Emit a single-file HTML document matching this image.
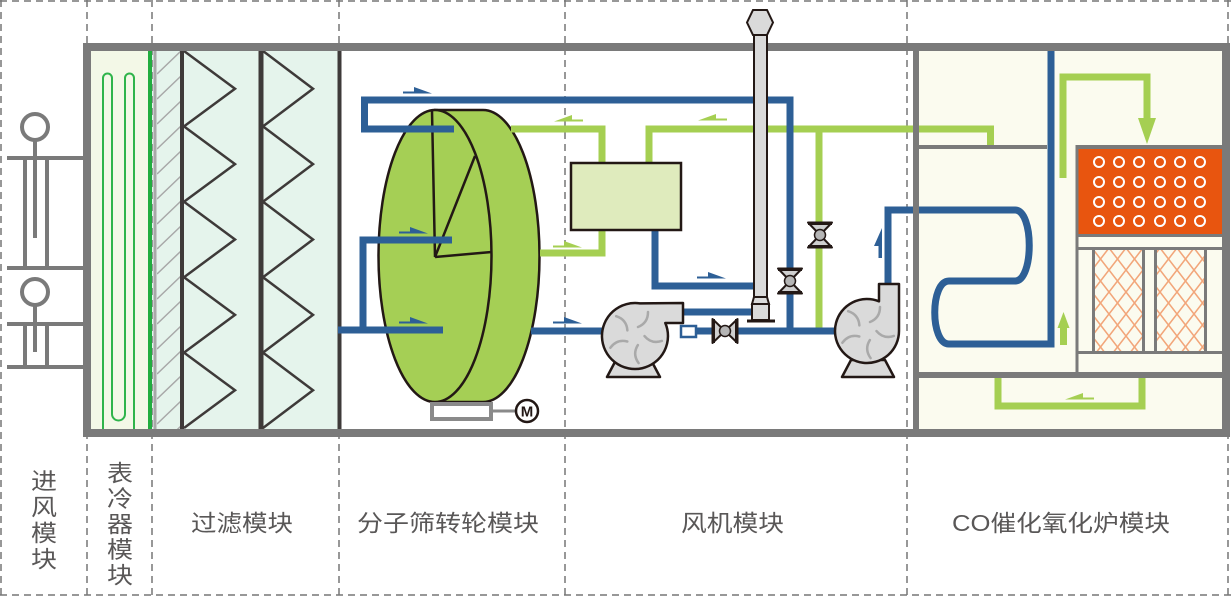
<!DOCTYPE html>
<html><head><meta charset="utf-8"><style>
html,body{margin:0;padding:0;background:#fff;}
svg{display:block;}
text{font-family:"Liberation Sans","Noto Sans CJK SC",sans-serif;fill:#595757;}
</style></head><body>
<svg width="1232" height="597" viewBox="0 0 1232 597" xmlns="http://www.w3.org/2000/svg">
<defs>
<clipPath id="hc"><rect x="157" y="51" width="24" height="378"/></clipPath>
<pattern id="xh" width="17" height="22" patternUnits="userSpaceOnUse" x="1092" y="248">
<path d="M0,0 L17,22 M17,0 L0,22" stroke="#f2a67a" stroke-width="1.6" fill="none"/>
</pattern>
<g id="bl" fill="none" stroke="#a9a9a9" stroke-width="2.5" stroke-linecap="round">
<path d="M3,-9 Q13,-13 13,-24"/>
<path d="M3,-9 Q13,-13 13,-24" transform="rotate(72)"/>
<path d="M3,-9 Q13,-13 13,-24" transform="rotate(144)"/>
<path d="M3,-9 Q13,-13 13,-24" transform="rotate(216)"/>
<path d="M3,-9 Q13,-13 13,-24" transform="rotate(288)"/>
</g>
<g id="vv">
<path d="M-12,-12.5 L12,-12.5 L0,0 Z M-12,12.5 L12,12.5 L0,0 Z" fill="#cfcfcf" stroke="#231815" stroke-width="2" stroke-linejoin="round"/>
<path d="M-12,-11.5 L12,-11.5 M-12,11.5 L12,11.5" stroke="#231815" stroke-width="3"/>
<circle r="5.5" fill="#b5b5b5" stroke="#231815" stroke-width="1.5"/>
</g>
<path id="ar" d="M0,-1.5 L11,-1.5 L11,-6 L29,0.5 L0,0.5 Z"/>
</defs>

<!-- fills -->
<rect x="91" y="51" width="58" height="378" fill="#f3f8e7"/>
<rect x="152" y="51" width="187" height="378" fill="#e5f4ec"/>
<rect x="916" y="51" width="306" height="378" fill="#fbfbef"/>

<!-- dashed guides -->
<g stroke="#777" stroke-width="1.5" stroke-dasharray="7 5" fill="none">
<line x1="1" y1="0" x2="1" y2="597"/>
<line x1="87" y1="0" x2="87" y2="597"/>
<line x1="152" y1="0" x2="152" y2="597"/>
<line x1="339" y1="0" x2="339" y2="597"/>
<line x1="565" y1="0" x2="565" y2="597"/>
<line x1="907" y1="0" x2="907" y2="597"/>
<line x1="1228" y1="0" x2="1228" y2="597"/>
<line x1="0" y1="1" x2="1232" y2="1"/>
<line x1="0" y1="595" x2="1232" y2="595"/>
</g>

<!-- intake -->
<g stroke="#7a7a7a" stroke-width="4" fill="none">
<circle cx="35" cy="127" r="13"/>
<line x1="35" y1="140" x2="35" y2="238"/>
<line x1="7" y1="158" x2="85" y2="158"/>
<line x1="7" y1="268" x2="85" y2="268"/>
<line x1="25" y1="158" x2="25" y2="268"/>
<line x1="47" y1="158" x2="47" y2="268"/>
<circle cx="35" cy="292" r="13"/>
<line x1="35" y1="305" x2="35" y2="352"/>
<line x1="7" y1="324" x2="85" y2="324"/>
<line x1="7" y1="367" x2="85" y2="367"/>
<line x1="25" y1="324" x2="25" y2="367"/>
<line x1="47" y1="324" x2="47" y2="367"/>
</g>

<!-- cooler coil -->
<path d="M103,429 L103,78 A4.5,4.5 0 0 1 112,78 L112,414 A6.5,6.5 0 0 0 125,414 L125,78 A4.5,4.5 0 0 1 134,78 L134,429" fill="none" stroke="#2fb44b" stroke-width="2"/>
<line x1="150" y1="51" x2="150" y2="429" stroke="#21ad3f" stroke-width="4"/>
<line x1="155" y1="51" x2="155" y2="429" stroke="#a8a8a8" stroke-width="3"/>
<g clip-path="url(#hc)" stroke="#a8a8a8" stroke-width="1.5">
<path d="M157,74 L181,51 M157,99 L181,76 M157,124 L181,101 M157,149 L181,126 M157,174 L181,151 M157,199 L181,176 M157,224 L181,201 M157,249 L181,226 M157,274 L181,251 M157,299 L181,276 M157,324 L181,301 M157,349 L181,326 M157,374 L181,351 M157,399 L181,376 M157,424 L181,401 M157,449 L181,426"/>
</g>

<!-- filters -->
<g stroke="#3e3a39" fill="none">
<line x1="182" y1="51" x2="182" y2="429" stroke-width="4"/>
<line x1="261" y1="51" x2="261" y2="429" stroke-width="5"/>
<line x1="339.5" y1="51" x2="339.5" y2="429" stroke-width="4"/>
<polyline stroke-width="2.5" points="184,51 235,88.7 184,126.4 235,164.1 184,201.8 235,239.5 184,277.2 235,314.9 184,352.6 235,390.3 184,428"/>
<polyline stroke-width="2.5" points="263,51 313,88.7 263,126.4 313,164.1 263,201.8 313,239.5 263,277.2 313,314.9 263,352.6 313,390.3 263,428"/>
</g>

<!-- main border -->
<rect x="87" y="47" width="1139" height="386" fill="none" stroke="#7a7a7a" stroke-width="8"/>

<!-- wheel -->
<path d="M435,110 L483,110 A56.5,146 0 0 1 483,402 L435,402 Z" fill="#a5cf55" stroke="#231815" stroke-width="2.5"/>
<ellipse cx="435" cy="256" rx="56.5" ry="146" fill="#a5cf55" stroke="#231815" stroke-width="2.5"/>
<path d="M432,111 L435,257 L475,156 M435,257 L491.5,252" fill="none" stroke="#231815" stroke-width="2.5"/>
<rect x="432" y="404" width="59" height="15" fill="#fff" stroke="#8a8a8a" stroke-width="4"/>
<line x1="493" y1="411" x2="516" y2="411" stroke="#8a8a8a" stroke-width="3"/>
<circle cx="527" cy="411" r="11" fill="#fff" stroke="#231815" stroke-width="2.5"/>
<text x="527" y="416.5" text-anchor="middle" font-size="15" font-weight="bold" style="fill:#231815">M</text>

<!-- green pipes -->
<g fill="none" stroke="#a5cf52" stroke-width="7">
<path d="M511,129 L602,129 L602,253 L540,253"/>
<path d="M649,163 L649,129 L990.5,129 L990.5,148"/>
<path d="M819,129 L819,331"/>
<path d="M1063,178 L1063,77 L1147,77 L1147,120"/>
<path d="M998,378 L998,406 L1142,406 L1142,378"/>
<path d="M1063.5,345 L1063.5,326"/>
</g>
<g fill="#a5cf52">
<polygon points="1138,118 1156,118 1147,144"/>
<polygon points="1057.5,328 1069.5,328 1063.5,312"/>
</g>

<!-- blue pipes -->
<g fill="none" stroke="#2d5f96" stroke-width="7">
<path d="M454,129 L364.5,129 L364.5,100 L790,100 L790,331"/>
<path d="M452,240 L363,240 L363,330"/>
<path d="M338,330 L443,330"/>
<path d="M531,331 L603,331"/>
<path d="M683,312 L754,312"/>
<path d="M655,230 L655,286 L754,286"/>
<path d="M697,331 L836,331"/>
<path d="M888,284 L888,210 L1015,210 C1034,210 1034,281 1015,281 L949,281 C930,281 930,344 949,344 L1051,344 L1051,51"/>
</g>
<rect x="681" y="326" width="15" height="11" fill="#fff" stroke="#2d5f96" stroke-width="2.5"/>

<!-- CO walls -->
<g stroke="#7a7a7a" fill="none">
<line x1="916" y1="47" x2="916" y2="433" stroke-width="6"/>
<line x1="916" y1="147" x2="1047" y2="147" stroke-width="4"/>
<line x1="916" y1="375" x2="1222" y2="375" stroke-width="6"/>
</g>

<!-- heater -->
<rect x="1078.5" y="149" width="143.5" height="86" fill="#e8550f"/>
<g stroke="#7a7a7a" fill="none">
<line x1="1077" y1="147" x2="1222" y2="147" stroke-width="4"/>
<line x1="1077" y1="145" x2="1077" y2="375" stroke-width="3"/>
<line x1="1077" y1="235.5" x2="1222" y2="235.5" stroke-width="3"/>
<line x1="1077" y1="248.5" x2="1222" y2="248.5" stroke-width="3"/>
<line x1="1077" y1="352.5" x2="1222" y2="352.5" stroke-width="3"/>
</g>
<rect x="1093.5" y="248.5" width="50" height="104" fill="url(#xh)" stroke="#7a7a7a" stroke-width="3"/>
<rect x="1155.5" y="248.5" width="50" height="104" fill="url(#xh)" stroke="#7a7a7a" stroke-width="3"/>
<g fill="none" stroke="#fff" stroke-width="2">
<circle cx="1099" cy="162" r="5"/><circle cx="1119" cy="162" r="5"/><circle cx="1139" cy="162" r="5"/><circle cx="1160" cy="162" r="5"/><circle cx="1180" cy="162" r="5"/><circle cx="1200" cy="162" r="5"/>
<circle cx="1099" cy="182" r="5"/><circle cx="1119" cy="182" r="5"/><circle cx="1139" cy="182" r="5"/><circle cx="1160" cy="182" r="5"/><circle cx="1180" cy="182" r="5"/><circle cx="1200" cy="182" r="5"/>
<circle cx="1099" cy="202" r="5"/><circle cx="1119" cy="202" r="5"/><circle cx="1139" cy="202" r="5"/><circle cx="1160" cy="202" r="5"/><circle cx="1180" cy="202" r="5"/><circle cx="1200" cy="202" r="5"/>
<circle cx="1099" cy="221" r="5"/><circle cx="1119" cy="221" r="5"/><circle cx="1139" cy="221" r="5"/><circle cx="1160" cy="221" r="5"/><circle cx="1180" cy="221" r="5"/><circle cx="1200" cy="221" r="5"/>
</g>

<!-- box -->
<rect x="571" y="163" width="110" height="67" fill="#dfebbd" stroke="#231815" stroke-width="2.5"/>

<!-- stack -->
<g stroke="#231815" stroke-width="2" fill="#dadada">
<rect x="754" y="35" width="13" height="263"/>
<polygon points="754,297 767,297 769,304 752,304"/>
<rect x="752" y="304" width="17" height="16"/>
<polygon points="753,10 767,10 773,22.5 767,35 753,35 747,22.5"/>
</g>
<line x1="747" y1="321" x2="775" y2="321" stroke="#231815" stroke-width="3"/>

<!-- fans -->
<g stroke="#231815" stroke-width="2.5" fill="#dadada" stroke-linejoin="round">
<polygon points="607,377 660,377 651,360 616,360"/>
<path d="M683,303 L640,303.4 A33,33 0 1 0 665.3,323 L683,323 Z"/>
<polygon points="842,377 894,377 885,360 851,360"/>
<path d="M879,284 L899,284 L899,331 A32,32 0 1 1 879,301.3 Z"/>
</g>
<use href="#bl" transform="translate(635,336)"/>
<use href="#bl" transform="translate(867,331)"/>

<!-- valves -->
<use href="#vv" transform="translate(725,331) rotate(90)"/>
<use href="#vv" transform="translate(790,281)"/>
<use href="#vv" transform="translate(820,235)"/>

<!-- arrows -->
<g fill="#2d5f96">
<use href="#ar" transform="translate(403,93)"/>
<use href="#ar" transform="translate(399,233)"/>
<use href="#ar" transform="translate(399,323)"/>
<use href="#ar" transform="translate(553,323)"/>
<use href="#ar" transform="translate(697,278)"/>
<polygon points="882,258 882,228 874,246 878.5,246 878.5,258"/>
</g>
<g fill="#a5cf52">
<use href="#ar" transform="translate(583,121) scale(-1,1)"/>
<use href="#ar" transform="translate(727,120) scale(-1,1)"/>
<use href="#ar" transform="translate(1094,399) scale(-1,1)"/>
<use href="#ar" transform="translate(553,247)"/>
</g>

<!-- labels -->
<g font-size="23">
<text x="31" y="489" textLength="26" lengthAdjust="spacingAndGlyphs">进</text>
<text x="31" y="515" textLength="26" lengthAdjust="spacingAndGlyphs">风</text>
<text x="31" y="541" textLength="26" lengthAdjust="spacingAndGlyphs">模</text>
<text x="31" y="567" textLength="26" lengthAdjust="spacingAndGlyphs">块</text>
<text x="107" y="481" textLength="26" lengthAdjust="spacingAndGlyphs">表</text>
<text x="107" y="506.5" textLength="26" lengthAdjust="spacingAndGlyphs">冷</text>
<text x="107" y="532" textLength="26" lengthAdjust="spacingAndGlyphs">器</text>
<text x="107" y="557.5" textLength="26" lengthAdjust="spacingAndGlyphs">模</text>
<text x="107" y="583" textLength="26" lengthAdjust="spacingAndGlyphs">块</text>
<text x="191" y="531" textLength="102" lengthAdjust="spacingAndGlyphs">过滤模块</text>
<text x="357" y="531" textLength="182" lengthAdjust="spacingAndGlyphs">分子筛转轮模块</text>
<text x="681" y="531" textLength="103" lengthAdjust="spacingAndGlyphs">风机模块</text>
<text x="952" y="531" textLength="218" lengthAdjust="spacingAndGlyphs">CO催化氧化炉模块</text>
</g>
</svg>
</body></html>
